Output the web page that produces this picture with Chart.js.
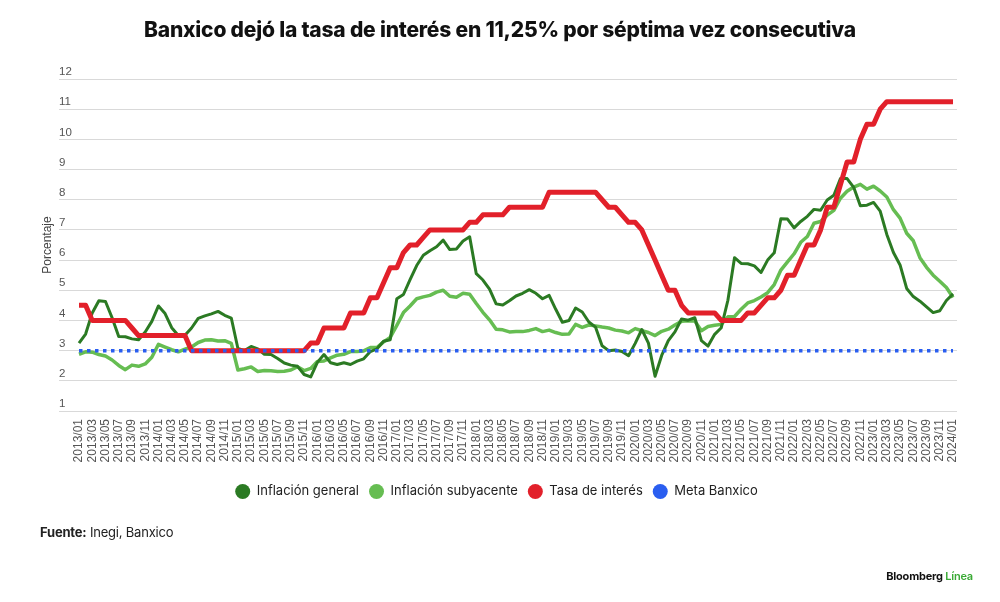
<!DOCTYPE html>
<html lang="es">
<head>
<meta charset="UTF-8">
<title>Banxico - tasa de interés</title>
<script src="https://cdn.jsdelivr.net/npm/chart.js"></script>
<style>
  body { margin: 0; background: #fff; }
  .lienzo { position: relative; width: 1000px; height: 602px; overflow: hidden; }
  .lienzo canvas { position: absolute; left: 0; top: 0; }
  .titulo {
    position: absolute; top: 16px; left: 0; width: 1000px; text-align: center;
    font-family: Inter, sans-serif; font-weight: 800; font-size: 21px; line-height: 28px;
    letter-spacing: -0.2px; color: #111;
  }
  .fuente {
    position: absolute; left: 40px; top: 524px;
    font-family: Inter, sans-serif; font-size: 13px; color: #222; letter-spacing: -0.2px;
  }
  .fuente b { font-weight: 700; }
  .marca {
    position: absolute; right: 27px; top: 569px;
    font-family: Inter, sans-serif; font-weight: 700; font-size: 11px; color: #111; letter-spacing: -0.2px;
  }
  .marca span { color: #3aaa35; font-weight: 600; }
</style>
</head>
<body>
<div class="lienzo">
  <canvas id="grafico"></canvas>
  <div class="titulo">Banxico dejó la tasa de interés en 11,25% por séptima vez consecutiva</div>
  <div class="fuente"><b>Fuente:</b> Inegi, Banxico</div>
  <div class="marca">Bloomberg <span>Línea</span></div>
</div>

<script>
  // Meses (2013/01 - 2024/01)
  const meses = [
    "2013/01","2013/02","2013/03","2013/04","2013/05","2013/06","2013/07","2013/08","2013/09","2013/10","2013/11","2013/12",
    "2014/01","2014/02","2014/03","2014/04","2014/05","2014/06","2014/07","2014/08","2014/09","2014/10","2014/11","2014/12",
    "2015/01","2015/02","2015/03","2015/04","2015/05","2015/06","2015/07","2015/08","2015/09","2015/10","2015/11","2015/12",
    "2016/01","2016/02","2016/03","2016/04","2016/05","2016/06","2016/07","2016/08","2016/09","2016/10","2016/11","2016/12",
    "2017/01","2017/02","2017/03","2017/04","2017/05","2017/06","2017/07","2017/08","2017/09","2017/10","2017/11","2017/12",
    "2018/01","2018/02","2018/03","2018/04","2018/05","2018/06","2018/07","2018/08","2018/09","2018/10","2018/11","2018/12",
    "2019/01","2019/02","2019/03","2019/04","2019/05","2019/06","2019/07","2019/08","2019/09","2019/10","2019/11","2019/12",
    "2020/01","2020/02","2020/03","2020/04","2020/05","2020/06","2020/07","2020/08","2020/09","2020/10","2020/11","2020/12",
    "2021/01","2021/02","2021/03","2021/04","2021/05","2021/06","2021/07","2021/08","2021/09","2021/10","2021/11","2021/12",
    "2022/01","2022/02","2022/03","2022/04","2022/05","2022/06","2022/07","2022/08","2022/09","2022/10","2022/11","2022/12",
    "2023/01","2023/02","2023/03","2023/04","2023/05","2023/06","2023/07","2023/08","2023/09","2023/10","2023/11","2023/12",
    "2024/01"
  ];

  const inflacionGeneral = [
    3.25, 3.55, 4.25, 4.65, 4.63, 4.09, 3.47, 3.46, 3.39, 3.36, 3.62, 3.97,
    4.48, 4.23, 3.76, 3.50, 3.51, 3.75, 4.07, 4.15, 4.22, 4.30, 4.17, 4.08,
    3.07, 3.00, 3.14, 3.06, 2.88, 2.87, 2.74, 2.59, 2.52, 2.48, 2.21, 2.13,
    2.61, 2.87, 2.60, 2.54, 2.60, 2.54, 2.65, 2.73, 2.97, 3.06, 3.31, 3.36,
    4.72, 4.86, 5.35, 5.82, 6.16, 6.31, 6.44, 6.66, 6.35, 6.37, 6.63, 6.77,
    5.55, 5.34, 5.04, 4.55, 4.51, 4.65, 4.81, 4.90, 5.02, 4.90, 4.72, 4.83,
    4.37, 3.94, 4.00, 4.41, 4.28, 3.95, 3.78, 3.16, 3.00, 3.02, 2.97, 2.83,
    3.24, 3.70, 3.25, 2.15, 2.84, 3.33, 3.62, 4.05, 4.01, 4.09, 3.33, 3.15,
    3.54, 3.76, 4.67, 6.08, 5.89, 5.88, 5.81, 5.59, 6.00, 6.24, 7.37, 7.36,
    7.07, 7.28, 7.45, 7.68, 7.65, 7.99, 8.15, 8.70, 8.70, 8.41, 7.80, 7.82,
    7.91, 7.62, 6.85, 6.25, 5.84, 5.06, 4.79, 4.64, 4.45, 4.26, 4.32, 4.66,
    4.88
  ];

  const inflacionSubyacente = [
    2.88, 2.96, 2.95, 2.87, 2.82, 2.69, 2.51, 2.37, 2.52, 2.48, 2.56, 2.78,
    3.21, 3.12, 3.03, 2.96, 3.05, 3.12, 3.27, 3.35, 3.36, 3.32, 3.33, 3.24,
    2.36, 2.40, 2.46, 2.31, 2.34, 2.33, 2.31, 2.32, 2.36, 2.47, 2.34, 2.41,
    2.64, 2.66, 2.76, 2.85, 2.88, 2.97, 2.97, 2.99, 3.10, 3.10, 3.29, 3.44,
    3.84, 4.26, 4.48, 4.72, 4.78, 4.83, 4.94, 5.00, 4.80, 4.77, 4.90, 4.87,
    4.56, 4.27, 4.02, 3.71, 3.69, 3.62, 3.63, 3.63, 3.67, 3.73, 3.63, 3.68,
    3.60, 3.54, 3.55, 3.87, 3.77, 3.85, 3.82, 3.78, 3.75, 3.68, 3.65, 3.59,
    3.73, 3.66, 3.60, 3.50, 3.64, 3.71, 3.85, 3.97, 3.99, 3.98, 3.66, 3.80,
    3.84, 3.87, 4.12, 4.13, 4.37, 4.58, 4.66, 4.78, 4.92, 5.19, 5.67, 5.94,
    6.21, 6.59, 6.78, 7.22, 7.28, 7.49, 7.65, 8.05, 8.28, 8.42, 8.51, 8.35,
    8.45, 8.29, 8.09, 7.67, 7.39, 6.89, 6.64, 6.08, 5.76, 5.50, 5.30, 5.09,
    4.76
  ];

  const tasaInteres = [
    4.50, 4.50, 4.00, 4.00, 4.00, 4.00, 4.00, 4.00, 3.75, 3.50, 3.50, 3.50,
    3.50, 3.50, 3.50, 3.50, 3.50, 3.00, 3.00, 3.00, 3.00, 3.00, 3.00, 3.00,
    3.00, 3.00, 3.00, 3.00, 3.00, 3.00, 3.00, 3.00, 3.00, 3.00, 3.00, 3.25,
    3.25, 3.75, 3.75, 3.75, 3.75, 4.25, 4.25, 4.25, 4.75, 4.75, 5.25, 5.75,
    5.75, 6.25, 6.50, 6.50, 6.75, 7.00, 7.00, 7.00, 7.00, 7.00, 7.00, 7.25,
    7.25, 7.50, 7.50, 7.50, 7.50, 7.75, 7.75, 7.75, 7.75, 7.75, 7.75, 8.25,
    8.25, 8.25, 8.25, 8.25, 8.25, 8.25, 8.25, 8.00, 7.75, 7.75, 7.50, 7.25,
    7.25, 7.00, 6.50, 6.00, 5.50, 5.00, 5.00, 4.50, 4.25, 4.25, 4.25, 4.25,
    4.25, 4.00, 4.00, 4.00, 4.00, 4.25, 4.25, 4.50, 4.75, 4.75, 5.00, 5.50,
    5.50, 6.00, 6.50, 6.50, 7.00, 7.75, 7.75, 8.50, 9.25, 9.25, 10.00, 10.50,
    10.50, 11.00, 11.25, 11.25, 11.25, 11.25, 11.25, 11.25, 11.25, 11.25, 11.25, 11.25,
    11.25
  ];

  const metaBanxico = 3;

  const colores = {
    general: '#2b7a23',
    subyacente: '#66bd52',
    tasa: '#e2202a',
    meta: '#2a5ef0'
  };

  const aPuntos = arr => arr.map((v, i) => ({ x: i, y: v }));

  const ultimo = meses.length - 1;
  const leyendaBase = Chart.defaults.plugins.legend.labels.generateLabels;

  new Chart(document.getElementById('grafico'), {
    type: 'line',
    data: {
      datasets: [
        {
          label: 'Inflación general',
          data: aPuntos(inflacionGeneral),
          borderColor: colores.general,
          backgroundColor: colores.general,
          borderWidth: 3,
          order: 2
        },
        {
          label: 'Inflación subyacente',
          data: aPuntos(inflacionSubyacente),
          borderColor: colores.subyacente,
          backgroundColor: colores.subyacente,
          borderWidth: 3.5,
          order: 3
        },
        {
          label: 'Tasa de interés',
          data: aPuntos(tasaInteres),
          borderColor: colores.tasa,
          backgroundColor: colores.tasa,
          borderWidth: 5,
          order: 1
        },
        {
          label: 'Meta Banxico',
          data: [{ x: 0, y: metaBanxico }, { x: ultimo, y: metaBanxico }],
          borderColor: colores.meta,
          backgroundColor: colores.meta,
          borderWidth: 3.5,
          borderDash: [3.5, 4.5],
          borderCapStyle: 'butt',
          order: 0
        }
      ]
    },
    options: {
      responsive: true,
      maintainAspectRatio: false,
      animation: false,
      layout: { padding: { left: 36, right: 43, top: 79, bottom: 94 } },
      elements: {
        point: { radius: 0, hoverRadius: 0 },
        line: { tension: 0, borderJoinStyle: 'round', fill: false }
      },
      scales: {
        x: {
          type: 'linear',
          min: -3.02,
          max: 132.6,
          grid: { display: false, drawTicks: false },
          border: { display: false },
          afterFit: (scale) => { scale.height = 64; },
          ticks: {
            stepSize: 2,
            includeBounds: false,
            autoSkip: false,
            minRotation: 90,
            maxRotation: 90,
            padding: 8,
            color: '#555',
            font: { family: '"Liberation Sans", Arial, sans-serif', size: 12 },
            callback: (v) => meses[v] ?? ''
          }
        },
        y: {
          min: 1,
          max: 12,
          afterFit: (scale) => { scale.width = 23; },
          grid: { color: '#d9d9d9', lineWidth: 1, drawTicks: false },
          border: { display: false },
          title: {
            display: true,
            text: 'Porcentaje',
            color: '#444',
            font: { family: '"Liberation Sans", Arial, sans-serif', size: 12 },
            padding: { top: 4, bottom: 4 }
          },
          ticks: {
            stepSize: 1,
            mirror: true,
            padding: 0,
            labelOffset: -7,
            color: '#555',
            font: { family: '"Liberation Sans", Arial, sans-serif', size: 11.5 }
          }
        }
      },
      plugins: {
        tooltip: { enabled: false },
        legend: {
          position: 'bottom',
          labels: {
            usePointStyle: true,
            pointStyle: 'circle',
            pointStyleWidth: 15,
            boxHeight: 10.6,
            padding: 10,
            color: '#222',
            font: { family: 'Inter, sans-serif', size: 13 },
            sort: (a, b) => a.datasetIndex - b.datasetIndex,
            generateLabels: (chart) => leyendaBase(chart).map(item => ({
              ...item,
              lineWidth: 0,
              lineDash: [],
              fillStyle: chart.data.datasets[item.datasetIndex].backgroundColor
            }))
          }
        }
      }
    }
  });
</script>
</body>
</html>
